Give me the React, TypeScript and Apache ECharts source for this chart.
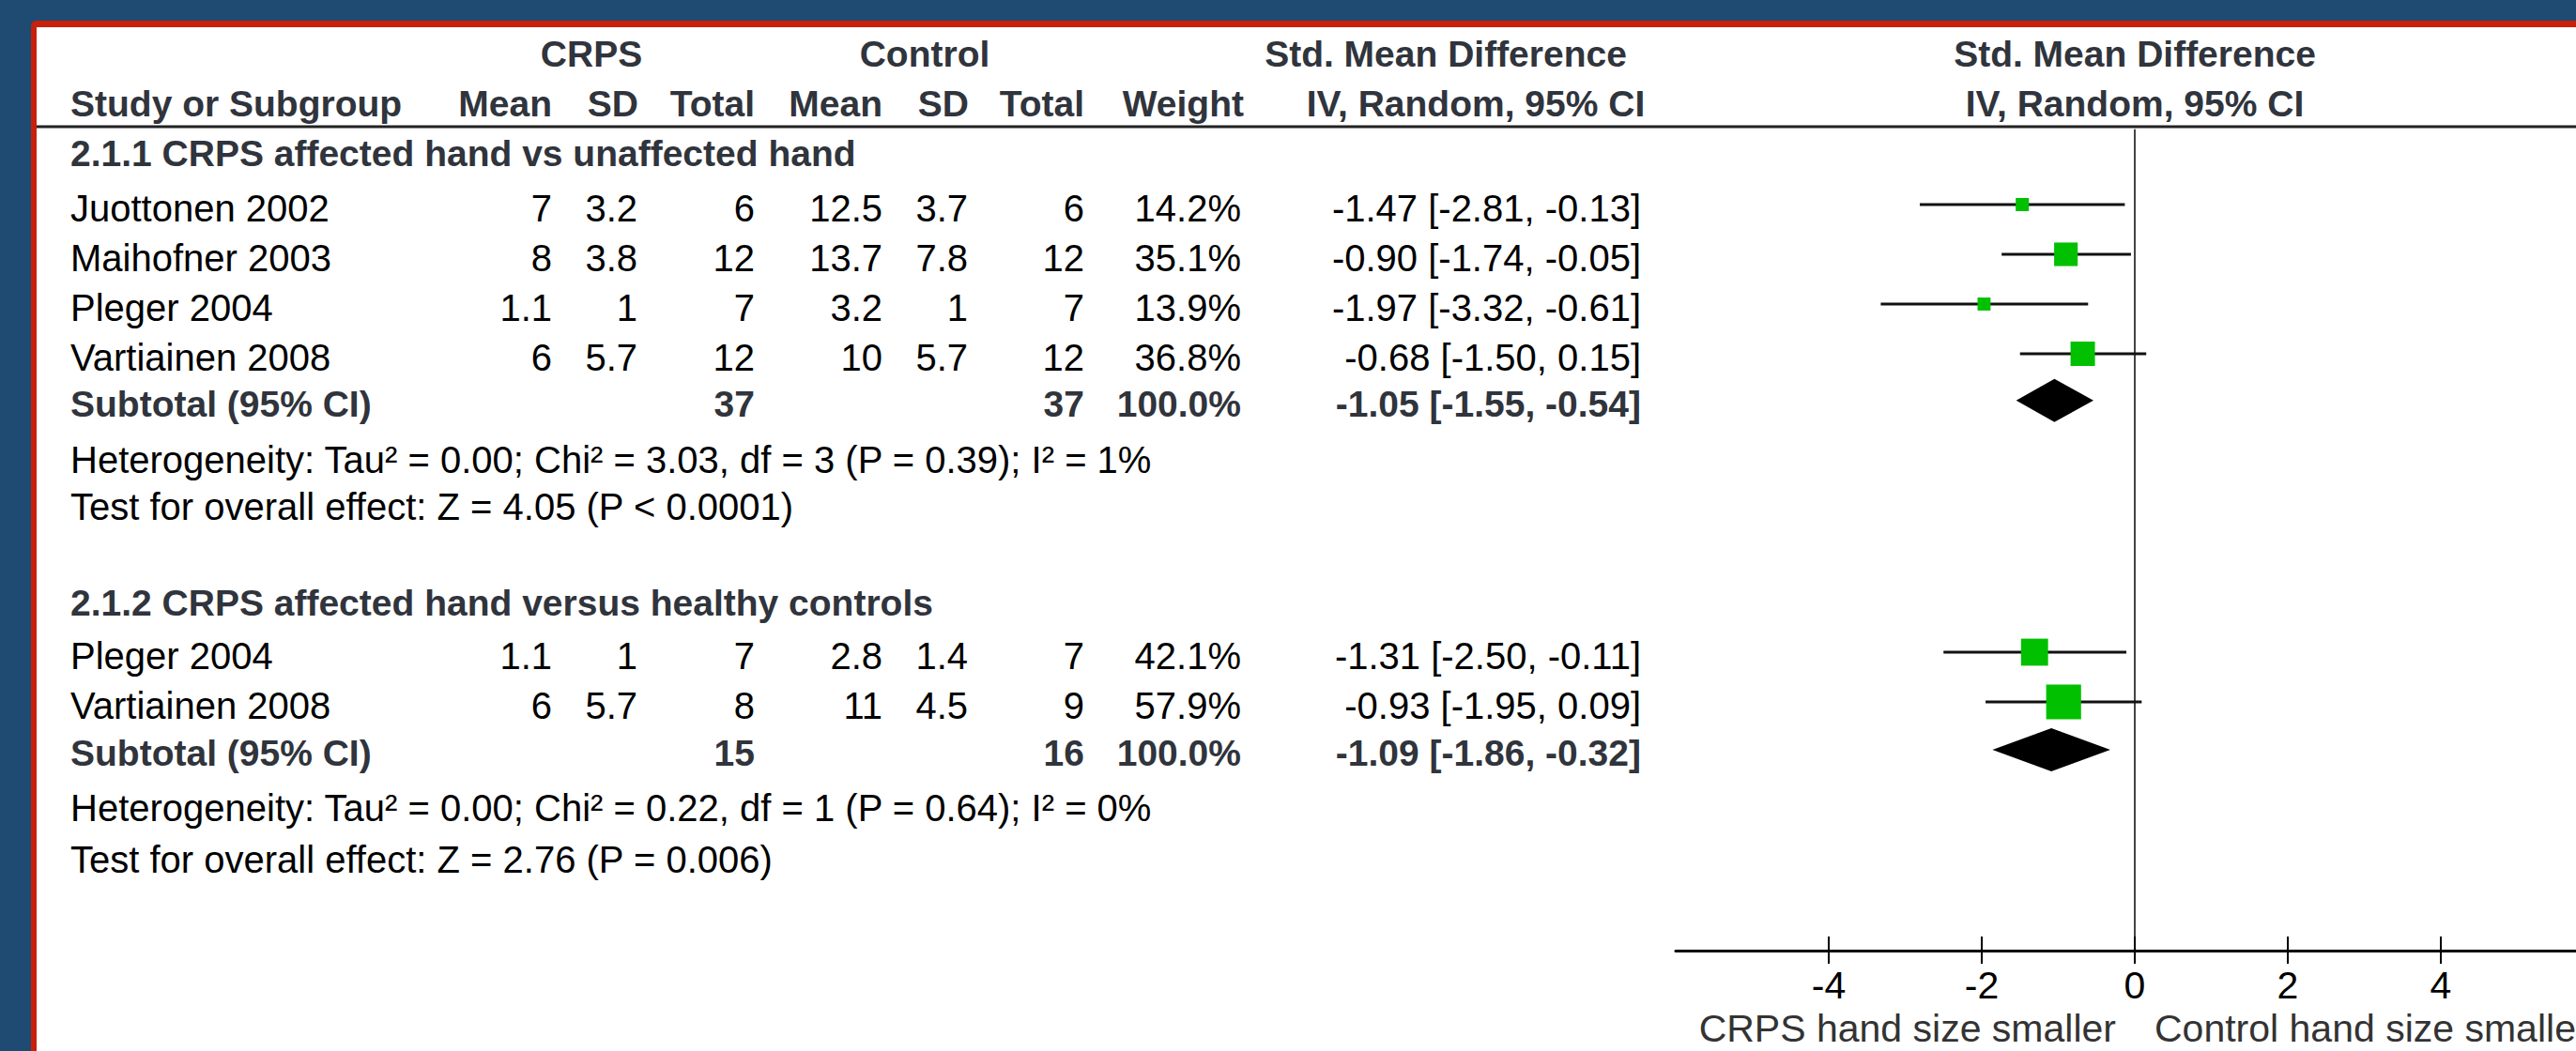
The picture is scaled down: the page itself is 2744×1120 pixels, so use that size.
import React, { useEffect, useRef } from "react";
import * as echarts from "echarts";

// ---------- data ----------
const group1Title = "2.1.1 CRPS affected hand vs unaffected hand";
const group1Studies = ["Juottonen 2002", "Maihofner 2003", "Pleger 2004", "Vartiainen 2008"];
const group1CrpsMean = [7, 8, 1.1, 6];
const group1CrpsSD = [3.2, 3.8, 1, 5.7];
const group1CrpsTotal = [6, 12, 7, 12];
const group1CtrlMean = [12.5, 13.7, 3.2, 10];
const group1CtrlSD = [3.7, 7.8, 1, 5.7];
const group1CtrlTotal = [6, 12, 7, 12];
const group1Weight = [14.2, 35.1, 13.9, 36.8];
const group1SMD = [-1.47, -0.9, -1.97, -0.68];
const group1Lo = [-2.81, -1.74, -3.32, -1.5];
const group1Hi = [-0.13, -0.05, -0.61, 0.15];
const group1Subtotal = { crpsTotal: 37, ctrlTotal: 37, weight: 100.0, smd: -1.05, lo: -1.55, hi: -0.54 };
const group1Het = "Heterogeneity: Tau\u00b2 = 0.00; Chi\u00b2 = 3.03, df = 3 (P = 0.39); I\u00b2 = 1%";
const group1Test = "Test for overall effect: Z = 4.05 (P < 0.0001)";

const group2Title = "2.1.2 CRPS affected hand versus healthy controls";
const group2Studies = ["Pleger 2004", "Vartiainen 2008"];
const group2CrpsMean = [1.1, 6];
const group2CrpsSD = [1, 5.7];
const group2CrpsTotal = [7, 8];
const group2CtrlMean = [2.8, 11];
const group2CtrlSD = [1.4, 4.5];
const group2CtrlTotal = [7, 9];
const group2Weight = [42.1, 57.9];
const group2SMD = [-1.31, -0.93];
const group2Lo = [-2.5, -1.95];
const group2Hi = [-0.11, 0.09];
const group2Subtotal = { crpsTotal: 15, ctrlTotal: 16, weight: 100.0, smd: -1.09, lo: -1.86, hi: -0.32 };
const group2Het = "Heterogeneity: Tau\u00b2 = 0.00; Chi\u00b2 = 0.22, df = 1 (P = 0.64); I\u00b2 = 0%";
const group2Test = "Test for overall effect: Z = 2.76 (P = 0.006)";

const xTicks = [-4, -2, 0, 2, 4];
const leftAxisLabel = "CRPS hand size smaller";
const rightAxisLabel = "Control hand size smaller";

// ---------- layout ----------
const W = 2744;
const H = 1120;
const ROW0 = 218;
const ROWH = 53;
const rowY = (r: number) => ROW0 + ROWH * r;
const TXT = 4;
const Y_MIN = -1.5;
const Y_MAX = 15;
const FONT = "'Liberation Sans', Arial, Helvetica, sans-serif";
const FS = 40;
const FSB = 39;
const BOLDC = "#30343c";

const COL = {
  name: 75,
  crpsMean: 588,
  crpsSD: 679,
  crpsTotal: 804,
  ctrlMean: 940,
  ctrlSD: 1031,
  ctrlTotal: 1155,
  weight: 1322,
  ci: 1748,
};

const fmt2 = (v: number) => v.toFixed(2);
const ciText = (e: number, l: number, h: number) => `${fmt2(e)} [${fmt2(l)}, ${fmt2(h)}]`;

function txt(x: number, y: number, text: string, align: string, bold = false, color?: string, size?: number) {
  return {
    type: "text",
    x,
    y,
    silent: true,
    style: {
      text,
      fontFamily: FONT,
      fontSize: size ?? (bold ? FSB : FS),
      fontWeight: bold ? "bold" : "normal",
      fill: color ?? (bold ? BOLDC : "#000"),
      align,
      verticalAlign: "middle",
    },
  };
}

export default function App() {
  const ref = useRef<HTMLDivElement>(null);

  useEffect(() => {
    if (!ref.current) return;
    const chart = echarts.init(ref.current, null, { renderer: "svg" });

    const graphics: any[] = [];
    // frame: white panel with red top and left border strips
    graphics.push({ type: "rect", z: -100, silent: true, shape: { x: 33, y: 22, width: W - 33, height: H - 22, r: [6, 0, 0, 0] }, style: { fill: "#C8200A" } });
    graphics.push({ type: "rect", z: -99, silent: true, shape: { x: 39, y: 29, width: W - 39, height: H - 29 }, style: { fill: "#ffffff" } });
    graphics.push({ type: "line", z: -98, silent: true, shape: { x1: 39, y1: 135, x2: W, y2: 135 }, style: { stroke: "#222", lineWidth: 3 } });

    // headers
    const h1 = rowY(-3.1) + TXT;
    const h2 = rowY(-2.1) + TXT;
    graphics.push(txt(630, h1, "CRPS", "center", true));
    graphics.push(txt(985, h1, "Control", "center", true));
    graphics.push(txt(1540, h1, "Std. Mean Difference", "center", true));
    graphics.push(txt(2274, h1, "Std. Mean Difference", "center", true));
    graphics.push(txt(COL.name, h2, "Study or Subgroup", "left", true));
    graphics.push(txt(COL.crpsMean, h2, "Mean", "right", true));
    graphics.push(txt(COL.crpsSD + 1, h2, "SD", "right", true));
    graphics.push(txt(COL.crpsTotal, h2, "Total", "right", true));
    graphics.push(txt(COL.ctrlMean, h2, "Mean", "right", true));
    graphics.push(txt(COL.ctrlSD + 1, h2, "SD", "right", true));
    graphics.push(txt(COL.ctrlTotal, h2, "Total", "right", true));
    graphics.push(txt(COL.weight + 3, h2, "Weight", "right", true));
    graphics.push(txt(1572, h2, "IV, Random, 95% CI", "center", true));
    graphics.push(txt(2274, h2, "IV, Random, 95% CI", "center", true));

    const studyRows = (
      startRow: number,
      names: string[],
      cm: number[], csd: number[], ct: number[],
      km: number[], ksd: number[], kt: number[],
      w: number[], e: number[], l: number[], h: number[]
    ) => {
      names.forEach((n, i) => {
        const y = rowY(startRow + i) + TXT;
        graphics.push(txt(COL.name, y, n, "left"));
        graphics.push(txt(COL.crpsMean, y, String(cm[i]), "right"));
        graphics.push(txt(COL.crpsSD, y, String(csd[i]), "right"));
        graphics.push(txt(COL.crpsTotal, y, String(ct[i]), "right"));
        graphics.push(txt(COL.ctrlMean, y, String(km[i]), "right"));
        graphics.push(txt(COL.ctrlSD, y, String(ksd[i]), "right"));
        graphics.push(txt(COL.ctrlTotal, y, String(kt[i]), "right"));
        graphics.push(txt(COL.weight, y, w[i].toFixed(1) + "%", "right"));
        graphics.push(txt(COL.ci, y, ciText(e[i], l[i], h[i]), "right"));
      });
    };
    const subtotalRow = (r: number, s: any) => {
      const y = rowY(r) + TXT;
      graphics.push(txt(COL.name, y, "Subtotal (95% CI)", "left", true));
      graphics.push(txt(COL.crpsTotal, y, String(s.crpsTotal), "right", true));
      graphics.push(txt(COL.ctrlTotal, y, String(s.ctrlTotal), "right", true));
      graphics.push(txt(COL.weight, y, s.weight.toFixed(1) + "%", "right", true));
      graphics.push(txt(COL.ci, y, ciText(s.smd, s.lo, s.hi), "right", true));
    };

    // group 1
    const G1_START = 0;
    const G1_SUB = 3.94;
    graphics.push(txt(COL.name, rowY(-1.1) + TXT, group1Title, "left", true));
    studyRows(G1_START, group1Studies, group1CrpsMean, group1CrpsSD, group1CrpsTotal, group1CtrlMean, group1CtrlSD, group1CtrlTotal, group1Weight, group1SMD, group1Lo, group1Hi);
    subtotalRow(G1_SUB, group1Subtotal);
    graphics.push(txt(COL.name, rowY(5.05) + TXT, group1Het, "left"));
    graphics.push(txt(COL.name, rowY(6.0) + TXT, group1Test, "left"));

    // group 2
    const G2_START = 9;
    const G2_SUB = 10.96;
    graphics.push(txt(COL.name, rowY(7.93) + TXT, group2Title, "left", true));
    studyRows(G2_START, group2Studies, group2CrpsMean, group2CrpsSD, group2CrpsTotal, group2CtrlMean, group2CtrlSD, group2CtrlTotal, group2Weight, group2SMD, group2Lo, group2Hi);
    subtotalRow(G2_SUB, group2Subtotal);
    graphics.push(txt(COL.name, rowY(12.06) + TXT, group2Het, "left"));
    graphics.push(txt(COL.name, rowY(13.1) + TXT, group2Test, "left"));

    // axis direction labels
    graphics.push(txt(2254, 1096, leftAxisLabel, "right", false, "#333", 41));
    graphics.push(txt(2295, 1096, rightAxisLabel, "left", false, "#333", 41));

    // forest data
    const studyData: number[][] = [];
    group1Studies.forEach((_, i) => studyData.push([group1Lo[i], group1SMD[i], group1Hi[i], G1_START + i, group1Weight[i]]));
    group2Studies.forEach((_, i) => studyData.push([group2Lo[i], group2SMD[i], group2Hi[i], G2_START + i, group2Weight[i]]));
    const diamondData: number[][] = [
      [group1Subtotal.lo, group1Subtotal.smd, group1Subtotal.hi, G1_SUB],
      [group2Subtotal.lo, group2Subtotal.smd, group2Subtotal.hi, G2_SUB],
    ];

    const gridTop = rowY(Y_MIN);
    const gridH = ROWH * (Y_MAX - Y_MIN);
    const unit = 81.5;

    const option: any = {
      animation: false,
      backgroundColor: "#1F4A72",
      graphic: { elements: graphics },
      grid: { left: 1785, top: gridTop, width: unit * 12, height: gridH, containLabel: false, outerBoundsMode: "none" },
      xAxis: [
        {
          type: "value",
          min: -6,
          max: 6,
          interval: 2,
          position: "bottom",
          axisLine: { show: true, onZero: false, lineStyle: { color: "#000", width: 3 } },
          axisTick: { show: true, inside: false, length: 14, customValues: xTicks, lineStyle: { color: "#000", width: 2 } },
          axisLabel: { show: true, customValues: xTicks, margin: 37, verticalAlign: "middle", fontSize: 41, fontFamily: FONT, color: "#000" },
          splitLine: { show: false },
        },
        {
          type: "value",
          min: -6,
          max: 6,
          interval: 2,
          position: "bottom",
          offset: 0,
          axisLine: { show: false, onZero: false },
          axisTick: { show: true, inside: true, length: 15, customValues: xTicks, lineStyle: { color: "#000", width: 2 } },
          axisLabel: { show: false },
          splitLine: { show: false },
        },
      ],
      yAxis: {
        type: "value",
        min: Y_MIN,
        max: Y_MAX,
        inverse: true,
        axisLine: { show: true, onZero: true, onZeroAxisIndex: 0, lineStyle: { color: "#444", width: 2 } },
        axisTick: { show: false },
        axisLabel: { show: false },
        splitLine: { show: false },
      },
      series: [
        {
          type: "custom",
          name: "studies",
          xAxisIndex: 0,
          yAxisIndex: 0,
          data: studyData,
          encode: { x: [0, 1, 2], y: 3 },
          renderItem: (params: any, api: any) => {
            const lo = api.value(0);
            const est = api.value(1);
            const hi = api.value(2);
            const row = api.value(3);
            const w = api.value(4);
            const pLo = api.coord([lo, row]);
            const pHi = api.coord([hi, row]);
            const pE = api.coord([est, row]);
            const s = 6.5 + 0.53 * w;
            return {
              type: "group",
              children: [
                { type: "line", shape: { x1: pLo[0], y1: pLo[1], x2: pHi[0], y2: pHi[1] }, style: { stroke: "#111", lineWidth: 3 } },
                { type: "rect", shape: { x: pE[0] - s / 2, y: pE[1] - s / 2, width: s, height: s }, style: { fill: "#00C000" } },
              ],
            };
          },
        },
        {
          type: "custom",
          name: "subtotals",
          xAxisIndex: 0,
          yAxisIndex: 0,
          data: diamondData,
          encode: { x: [0, 1, 2], y: 3 },
          renderItem: (params: any, api: any) => {
            const lo = api.coord([api.value(0), api.value(3)]);
            const e = api.coord([api.value(1), api.value(3)]);
            const hi = api.coord([api.value(2), api.value(3)]);
            const hh = 23;
            return {
              type: "polygon",
              shape: { points: [[lo[0], lo[1]], [e[0], e[1] - hh], [hi[0], hi[1]], [e[0], e[1] + hh]] },
              style: { fill: "#000" },
            };
          },
        },
      ],
    };

    chart.setOption(option);
    return () => chart.dispose();
  }, []);

  return <div ref={ref} style={{ position: "fixed", left: 0, top: 0, width: W, height: H }} />;
}
